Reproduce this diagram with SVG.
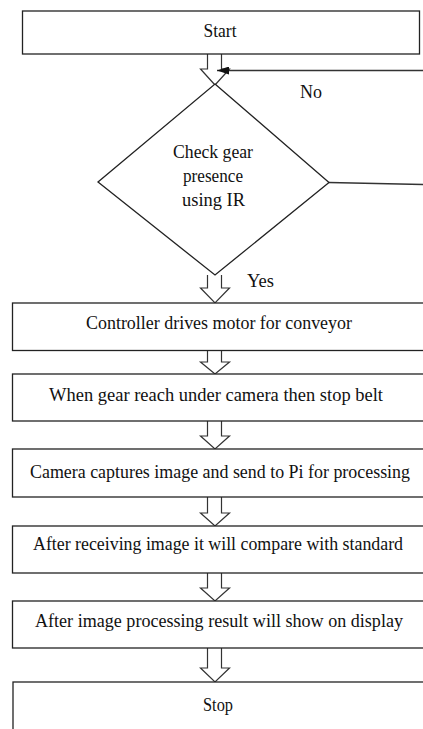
<svg xmlns="http://www.w3.org/2000/svg" width="423" height="729" viewBox="0 0 423 729">
<style>
.box{fill:#fff;stroke:#222;stroke-width:1.3}
.arr{fill:#fff;stroke:#333;stroke-width:1.2}
.ln{fill:none;stroke:#333;stroke-width:1.3}
.t{fill:#111;text-anchor:middle}
</style>
<defs>
<marker id="ah" viewBox="0 0 12 8" refX="12" refY="4" markerWidth="12" markerHeight="8" markerUnits="userSpaceOnUse" orient="auto">
<path d="M0,0 L12,4 L0,8 Z" fill="#111"/>
</marker>
</defs>
<rect width="423" height="729" fill="#fff"/>
<g id="connectors">
<path class="arr" d="M207.5,54 V69 H200.5 L215,85 L229.5,69 H221.5 V54"/>
<path class="arr" d="M207.5,275 V288 H200.5 L215,303 L229.5,288 H221.5 V275"/>
<path class="arr" d="M207.5,350.5 V362 H200.5 L215,374 L229.5,362 H221.5 V350.5"/>
<path class="arr" d="M207.5,421 V436 H200.5 L215,449 L229.5,436 H221.5 V421"/>
<path class="arr" d="M207.5,497 V513 H200.5 L215,526 L229.5,513 H221.5 V497"/>
<path class="arr" d="M207.5,573 V588 H200.5 L215,601 L229.5,588 H221.5 V573"/>
<path class="arr" d="M207.5,648 V668 H200.5 L215,682 L229.5,668 H221.5 V648"/>
<line class="ln" x1="423" y1="70.5" x2="217" y2="70.5" marker-end="url(#ah)"/>
<line class="ln" x1="329" y1="182.5" x2="423" y2="184.5"/>
<text class="t" font-family="Liberation Serif, serif" font-size="18" x="311" y="98" textLength="22" lengthAdjust="spacingAndGlyphs">No</text>
<text class="t" font-family="Liberation Serif, serif" font-size="18" x="260.5" y="287" textLength="27" lengthAdjust="spacingAndGlyphs">Yes</text>
</g>
<g id="start">
<rect class="box" x="22.5" y="11" width="397" height="43"/>
<text class="t" font-family="Liberation Serif, serif" font-size="18" x="220" y="37" textLength="33" lengthAdjust="spacingAndGlyphs">Start</text>
</g>
<g id="check">
<polygon class="box" points="215,84 329,182.5 215,275 98,182"/>
<text class="t" font-family="Liberation Serif, serif" font-size="18" x="213" y="158" textLength="80" lengthAdjust="spacingAndGlyphs">Check gear</text>
<text class="t" font-family="Liberation Serif, serif" font-size="18" x="213" y="182" textLength="60" lengthAdjust="spacingAndGlyphs">presence</text>
<text class="t" font-family="Liberation Serif, serif" font-size="18" x="213.5" y="206" textLength="63" lengthAdjust="spacingAndGlyphs">using IR</text>
</g>
<g id="drive">
<rect class="box" x="12.5" y="303" width="420" height="47.5"/>
<text class="t" font-family="Liberation Serif, serif" font-size="18" x="219" y="329" textLength="266" lengthAdjust="spacingAndGlyphs">Controller drives motor for conveyor</text>
</g>
<g id="stopbelt">
<rect class="box" x="12.5" y="374" width="420" height="47"/>
<text class="t" font-family="Liberation Serif, serif" font-size="18" x="216" y="401" textLength="334" lengthAdjust="spacingAndGlyphs">When gear reach under camera then stop belt</text>
</g>
<g id="capture">
<rect class="box" x="12.5" y="449" width="420" height="48"/>
<text class="t" font-family="Liberation Serif, serif" font-size="18" x="220" y="478" textLength="380" lengthAdjust="spacingAndGlyphs">Camera captures image and send to Pi for processing</text>
</g>
<g id="compare">
<rect class="box" x="12.5" y="526" width="420" height="47"/>
<text class="t" font-family="Liberation Serif, serif" font-size="18" x="218" y="550" textLength="370" lengthAdjust="spacingAndGlyphs">After receiving image it will compare with standard</text>
</g>
<g id="display">
<rect class="box" x="12.5" y="601" width="420" height="47"/>
<text class="t" font-family="Liberation Serif, serif" font-size="18" x="219" y="627" textLength="368" lengthAdjust="spacingAndGlyphs">After image processing result will show on display</text>
</g>
<g id="stop">
<rect class="box" x="13" y="682" width="420" height="60"/>
<text class="t" font-family="Liberation Serif, serif" font-size="18" x="218" y="711" textLength="30" lengthAdjust="spacingAndGlyphs">Stop</text>
</g>
</svg>
